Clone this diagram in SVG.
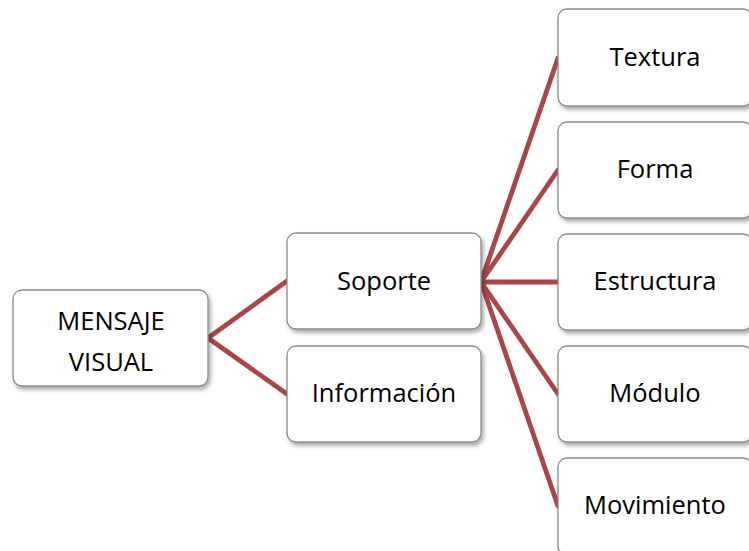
<svg xmlns="http://www.w3.org/2000/svg" width="749" height="551" viewBox="0 0 749 551">
<defs>
<filter id="sh" x="-10%" y="-10%" width="130%" height="130%">
<feDropShadow dx="2" dy="3" stdDeviation="2" flood-color="#000" flood-opacity="0.35"/>
</filter>
<style>
.box{fill:#fff;stroke:#8a8a8a;stroke-width:1.3;filter:url(#sh)}
.lbl{font-family:"Open Sans","Noto Sans",sans-serif;font-size:25.5px;fill:#000;text-anchor:middle}
.con{stroke:#a8474a;stroke-width:4.8;fill:none;stroke-linecap:round}
</style>
</defs>
<rect width="749" height="551" fill="#fff"/>
<g id="connectors">
<line class="con" x1="208" y1="338" x2="287" y2="281"/>
<line class="con" x1="208" y1="338" x2="287" y2="394"/>
<line class="con" x1="481" y1="282" x2="558" y2="58"/>
<line class="con" x1="481" y1="282" x2="558" y2="170"/>
<line class="con" x1="481" y1="282" x2="558" y2="282"/>
<line class="con" x1="481" y1="282" x2="558" y2="394"/>
<line class="con" x1="481" y1="282" x2="558" y2="506"/>
</g>
<g id="mensaje">
<rect class="box" x="13" y="290" width="195" height="96" rx="9"/>
<text class="lbl" x="111" y="330">MENSAJE</text>
<text class="lbl" x="111" y="371">VISUAL</text>
</g>
<g id="soporte">
<rect class="box" x="287" y="233" width="194" height="96" rx="9"/>
<text class="lbl" x="384" y="290">Soporte</text>
</g>
<g id="informacion">
<rect class="box" x="287" y="346" width="194" height="96" rx="9"/>
<text class="lbl" x="384" y="402">Información</text>
</g>
<g id="textura">
<rect class="box" x="558" y="9" width="194" height="97" rx="9"/>
<text class="lbl" x="655" y="66">Textura</text>
</g>
<g id="forma">
<rect class="box" x="558" y="122" width="194" height="96" rx="9"/>
<text class="lbl" x="655" y="178">Forma</text>
</g>
<g id="estructura">
<rect class="box" x="558" y="234" width="194" height="96" rx="9"/>
<text class="lbl" x="655" y="290">Estructura</text>
</g>
<g id="modulo">
<rect class="box" x="558" y="346" width="194" height="96" rx="9"/>
<text class="lbl" x="655" y="402">Módulo</text>
</g>
<g id="movimiento">
<rect class="box" x="558" y="458" width="194" height="97" rx="9"/>
<text class="lbl" x="655" y="514">Movimiento</text>
</g>
</svg>
